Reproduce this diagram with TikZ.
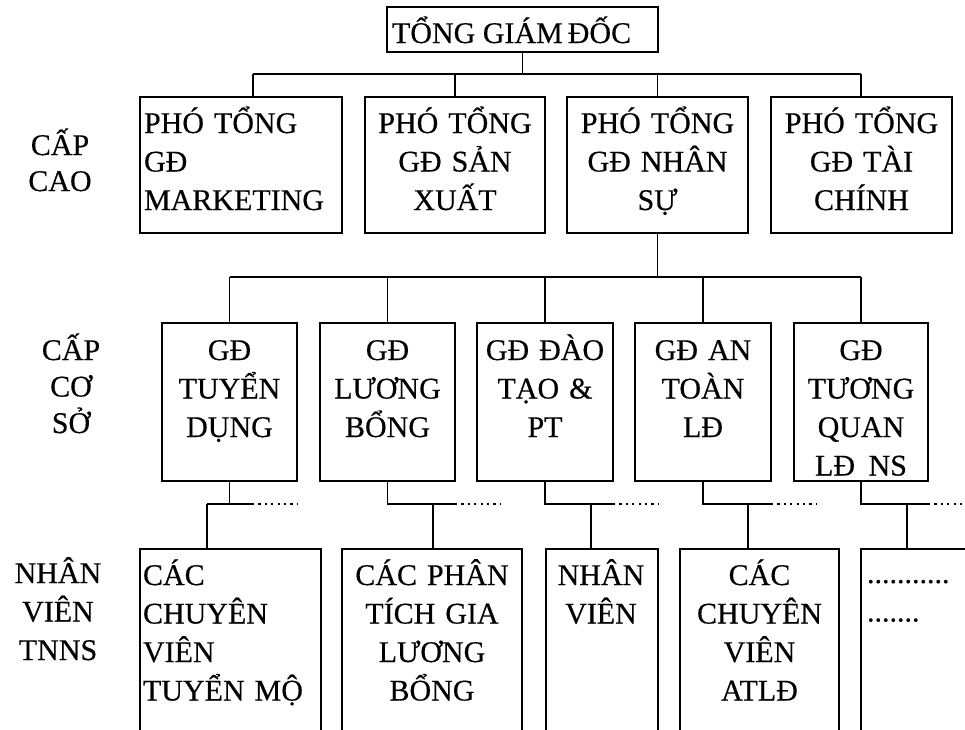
\documentclass[tikz,border=0pt]{standalone}
\usepackage{fontspec}
\setmainfont{Liberation Serif}[FakeBold=0.4]
\begin{document}
\begin{tikzpicture}[x=1pt,y=-1pt,line width=1.1pt,
  box/.style={draw,rectangle,inner sep=0pt,outer sep=0pt},
  txt/.style={font=\fontsize{30}{38.5}\selectfont,inner sep=0pt,outer sep=0pt,anchor=base,align=center},
  ltxt/.style={txt,anchor=base west,align=left},
  dotline/.style={line width=2.1pt,dash pattern=on 2.1pt off 4.3pt}]
\useasboundingbox (0,0) rectangle (965,729);
\clip (0,0) rectangle (965,729);
\fill[white] (0,0) rectangle (965,729);

% top
\node[box,minimum width=271pt,minimum height=45pt] (top) at (522.5,29.5) {};
\node[txt,anchor=base west] (topt) at (392,43) {TỔNG GIÁM\,ĐỐC};

% level 1
\node[box,minimum width=202pt,minimum height=136pt] (l1a) at (241,165) {};
\node[box,minimum width=180pt,minimum height=136pt] (l1b) at (455,165) {};
\node[box,minimum width=181pt,minimum height=136pt] (l1c) at (657.5,165) {};
\node[box,minimum width=181pt,minimum height=136pt] (l1d) at (861.5,165) {};
\node[ltxt,text width=195pt] (l1at) at (144,133) {PHÓ TỔNG\\GĐ\\MARKETING};
\node[txt,text width=175pt] (l1bt) at (455,133) {PHÓ TỔNG\\GĐ SẢN\\XUẤT};
\node[txt,text width=175pt] (l1ct) at (657.5,133) {PHÓ TỔNG\\GĐ NHÂN\\SỰ};
\node[txt,text width=175pt] (l1dt) at (861.5,133) {PHÓ TỔNG\\GĐ TÀI\\CHÍNH};

\coordinate (b1l) at (253,74);
\coordinate (b1r) at (861,74);
\draw (top.south) -- (top.south |- b1l);
\draw (b1l) -- (b1r);
\draw (b1l) -- (b1l |- l1a.north);
\draw (l1b.north |- b1l) -- (l1b.north);
\draw (l1c.north |- b1l) -- (l1c.north);
\draw (b1r) -- (b1r |- l1d.north);

% level 2
\node[box,minimum width=135pt,minimum height=158pt] (l2a) at (229.5,402) {};
\node[box,minimum width=135pt,minimum height=158pt] (l2b) at (387.5,402) {};
\node[box,minimum width=136pt,minimum height=158pt] (l2c) at (545,402) {};
\node[box,minimum width=136pt,minimum height=158pt] (l2d) at (703,402) {};
\node[box,minimum width=134pt,minimum height=158pt] (l2e) at (861,402) {};
\node[txt,text width=132pt] (l2at) at (229.5,360) {GĐ\\TUYỂN\\DỤNG};
\node[txt,text width=132pt] (l2bt) at (387.5,360) {GĐ\\LƯƠNG\\BỔNG};
\node[txt,text width=132pt] (l2ct) at (545,360) {GĐ ĐÀO\\TẠO \&\\PT};
\node[txt,text width=132pt] (l2dt) at (703,360) {GĐ AN\\TOÀN\\LĐ};
\node[txt,text width=132pt] (l2et) at (861,360) {GĐ\\TƯƠNG\\QUAN\\LĐ\hspace{0.45em}NS};

\coordinate (b2) at (657.5,277);
\draw (l1c.south) -- (l1c.south |- b2);
\draw (l2a.north |- b2) -- (l2e.north |- b2);
\foreach \n in {a,b,c,d,e} \draw (l2\n.north |- b2) -- (l2\n.north);

% level 3
\node[box,minimum width=181pt,minimum height=201pt] (l3a) at (230.5,649.5) {};
\node[box,minimum width=180pt,minimum height=201pt] (l3b) at (432,649.5) {};
\node[box,minimum width=112pt,minimum height=201pt] (l3c) at (602,649.5) {};
\node[box,minimum width=159pt,minimum height=201pt] (l3d) at (759.5,649.5) {};
\node[box,minimum width=119pt,minimum height=201pt] (l3e) at (920.5,649.5) {};
\node[ltxt,text width=175pt] (l3at) at (143,585) {CÁC\\CHUYÊN\\VIÊN\\TUYỂN MỘ};
\node[txt,text width=175pt] (l3bt) at (432,585) {CÁC PHÂN\\TÍCH GIA\\LƯƠNG\\BỔNG};
\node[txt,text width=110pt] (l3ct) at (601,585) {NHÂN\\VIÊN};
\node[txt,text width=155pt] (l3dt) at (759.5,585) {CÁC\\CHUYÊN\\VIÊN\\ATLĐ};
\node[ltxt,text width=100pt] (l3et) at (867,583) {...........\\.......};

% branch A
\coordinate (ka) at (207,504);
\coordinate (sa) at (252,504);
\coordinate (ea) at (297,504);
\draw (l2a.south) -- (l2a.south |- ka);
\draw (ka) -- (sa);
\draw[dotline] (sa) -- (ea);
\draw (ka) -- (ka |- l3a.north);
% branch B
\coordinate (kb) at (433,504);
\coordinate (sb) at (455,504);
\coordinate (eb) at (500,504);
\draw (l2b.south) -- (l2b.south |- kb) -- (sb);
\draw[dotline] (sb) -- (eb);
\draw (kb) -- (kb |- l3b.north);
% branch C
\coordinate (kc) at (591,504);
\coordinate (sc) at (613,504);
\coordinate (ec) at (658,504);
\draw (l2c.south) -- (l2c.south |- kc) -- (sc);
\draw[dotline] (sc) -- (ec);
\draw (kc) -- (kc |- l3c.north);
% branch D
\coordinate (kd) at (748,504);
\coordinate (sd) at (771,504);
\coordinate (ed) at (817,504);
\draw (l2d.south) -- (l2d.south |- kd) -- (sd);
\draw[dotline] (sd) -- (ed);
\draw (kd) -- (kd |- l3d.north);
% branch E
\coordinate (ke) at (907,504);
\coordinate (se) at (928,504);
\coordinate (ee) at (968,504);
\draw (l2e.south) -- (l2e.south |- ke) -- (se);
\draw[dotline] (se) -- (ee);
\draw (ke) -- (ke |- l3e.north);

% level labels
\node[txt,text width=100pt,font=\fontsize{30}{36}\selectfont] (lab1) at (60,155) {CẤP\\CAO};
\node[txt,text width=100pt,font=\fontsize{30}{36.5}\selectfont] (lab2) at (71,360) {CẤP\\CƠ\\SỞ};
\node[txt,text width=110pt,font=\fontsize{30}{38.5}\selectfont] (lab3) at (58,583) {NHÂN\\VIÊN\\TNNS};
\end{tikzpicture}
\end{document}
